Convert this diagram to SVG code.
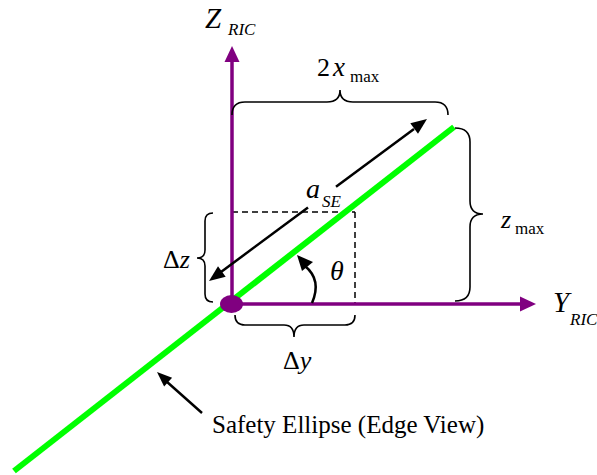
<svg xmlns="http://www.w3.org/2000/svg" width="597" height="475" viewBox="0 0 597 475">
<style>
.t{font-family:'Liberation Serif','DejaVu Serif',serif;fill:#000}
.it{font-style:italic}
.brace{fill:none;stroke:#000;stroke-width:1.6}
.dash{fill:none;stroke:#000;stroke-width:1.5;stroke-dasharray:6,4}
.axis{stroke:#800080;stroke-width:3.5;fill:none}
.ph{fill:#800080}
.blk{stroke:#000;stroke-width:2.5;fill:none}
</style>
<rect width="597" height="475" fill="#fff"/>
<g id="connectors">
  <line class="dash" x1="232" y1="212" x2="355" y2="212"/>
  <line class="dash" x1="355" y1="212" x2="355" y2="304"/>
  <line x1="14" y1="471" x2="454" y2="127" stroke="#00ff00" stroke-width="6"/>
  <line class="axis" x1="232" y1="304" x2="232" y2="60"/>
  <polygon class="ph" points="232,46 224.5,62 239.5,62"/>
  <line class="axis" x1="232" y1="304" x2="522" y2="304"/>
  <polygon class="ph" points="536,304 520,296.5 520,311.5"/>
  <line class="blk" x1="221" y1="272" x2="308" y2="207.5"/>
  <line class="blk" x1="336" y1="186.8" x2="414" y2="129"/>
  <polygon points="427,119 418,133.8 410.3,123.3" fill="#000"/>
  <polygon points="209,281 225.7,276.7 218,266.2" fill="#000"/>
  <path class="blk" d="M312,303 Q322,280 305,266"/>
  <polygon points="297,255 302,271 313,262" fill="#000"/>
  <line class="blk" x1="202" y1="413" x2="166" y2="381"/>
  <polygon points="157,372 172.1,377.7 164.1,386.5" fill="#000"/>
  <path class="brace" d="M232,115 Q232,102 245,102 L327,102 Q340,102 340,90 Q340,102 353,102 L435,102 Q448,102 448,115"/>
  <path class="brace" d="M455,128 Q470,128 470,142 L470,201 Q470,214 483,214 Q470,214 470,227 L470,287 Q470,301 455,301"/>
  <path class="brace" d="M213,213 Q205,213 205,221 L205,250 Q205,258 197,258 Q205,258 205,266 L205,294 Q205,302 213,302"/>
  <path class="brace" d="M235,315 Q235,325 245,325 L284,325 Q294,325 294,337 Q294,325 304,325 L345,325 Q355,325 355,315"/>
</g>
<g id="origin"><ellipse cx="231.5" cy="304" rx="11.5" ry="9" fill="#800080"/></g>
<g id="zaxis-label"><text class="t it" x="205" y="28" font-size="29">Z</text><text class="t it" x="228" y="35" font-size="17">RIC</text></g>
<g id="yaxis-label"><text class="t it" x="553" y="312" font-size="29">Y</text><text class="t it" x="570" y="325" font-size="17">RIC</text></g>
<g id="xmax-label"><text class="t" x="317" y="76" font-size="26">2</text><text class="t it" x="333" y="76" font-size="27">x</text><text class="t" x="350" y="82" font-size="17">max</text></g>
<g id="zmax-label"><text class="t it" x="501" y="228" font-size="26">z</text><text class="t" x="515" y="234" font-size="17">max</text></g>
<g id="ase-label"><text class="t it" x="306" y="198" font-size="28">a</text><text class="t it" x="322" y="207" font-size="17">SE</text></g>
<g id="theta-label"><text class="t it" x="330" y="280" font-size="28">θ</text></g>
<g id="dz-label"><text class="t" x="163" y="268" font-size="26">Δ<tspan class="it">z</tspan></text></g>
<g id="dy-label"><text class="t" x="283" y="369" font-size="26">Δ<tspan class="it">y</tspan></text></g>
<g id="ellipse-label"><text class="t" x="212" y="433" font-size="25">Safety Ellipse (Edge View)</text></g>
</svg>
